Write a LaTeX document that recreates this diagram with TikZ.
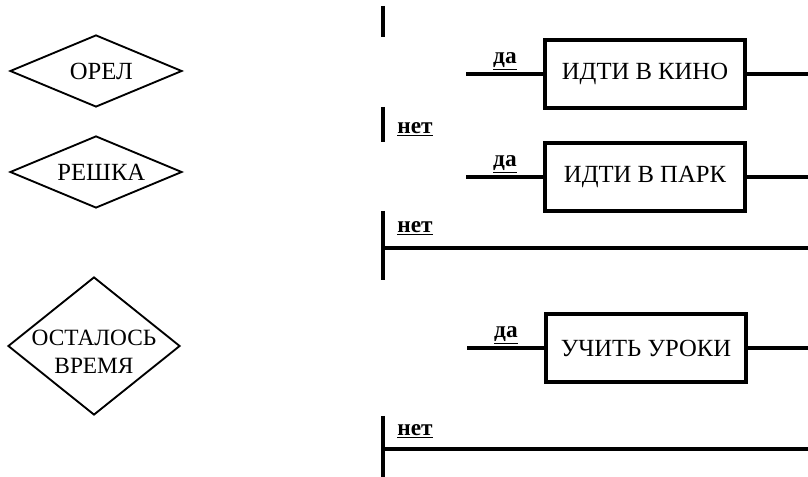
\documentclass[tikz,border=0pt]{standalone}
\usepackage{fontspec}
\setmainfont{Liberation Serif}
\usetikzlibrary{shapes.geometric,positioning}
\tikzset{
  txt/.style={font=\fontsize{18.5}{20}\selectfont},
  dec/.style={draw, diamond, line width=1.4pt, inner sep=0pt,
              minimum width=129pt, minimum height=54pt},
  act/.style={draw, rectangle, line width=2.3pt, minimum width=150pt,
              minimum height=51pt, txt},
  ln/.style={line width=2.3pt},
  yes/.style={midway, above, inner sep=2pt, font=\bfseries\fontsize{17.5}{19}\selectfont},
  no/.style={font=\bfseries\fontsize{17.5}{19}\selectfont},
}
\begin{document}
\begin{tikzpicture}[x=0.75pt,y=-0.75pt]
\useasboundingbox (0,0) rectangle (808,477);
\coordinate (edge) at (808,0);
% conditions
\node[dec, label={[txt,xshift=4pt]center:ОРЕЛ}] (orel) at (96,71) {};
\node[dec, label={[txt,xshift=4pt]center:РЕШКА}] (reshka) at (96,172) {};
\node[dec, minimum height=103.5pt,
      label={[align=center,yshift=-4pt,font=\fontsize{17.5}{21}\selectfont]center:ОСТАЛОСЬ\\ВРЕМЯ}] (time) at (94,346) {};
% actions
\node[act] (kino) at (645,74) {ИДТИ В КИНО};
\node[act] (park) at (645,177) {ИДТИ В ПАРК};
\node[act] (uroki) at (646,348) {УЧИТЬ УРОКИ};
\foreach \b in {kino,park,uroki}
   \draw[ln] (\b.west) ++(-77,0) coordinate (\b-in) -- node[yes] {\underline{да}} (\b.west)
             (\b.east) -- (\b.east -| edge);
% branches "нет"
\coordinate (top1) at (383,6);   \coordinate (top2) at (383,37);
\coordinate (no1a) at (383,107); \coordinate (no1b) at (383,142);
\coordinate (no2a) at (383,211); \coordinate (no2b) at (383,280);
\coordinate (no3a) at (383,416); \coordinate (no3b) at (383,477);
\coordinate (no2) at (383,248);  \coordinate (no3) at (383,449);
\draw[ln] (top1) -- (top2)
          (no1a) -- (no1b)
          (no2a) -- (no2b)
          (no3a) -- (no3b)
          (no2) -- (no2 -| edge)
          (no3) -- (no3 -| edge);
\node[no] (net1) at (415,129) {\underline{нет}};
\node[no] (net2) at (415,228) {\underline{нет}};
\node[no] (net3) at (415,431) {\underline{нет}};
\end{tikzpicture}
\end{document}
